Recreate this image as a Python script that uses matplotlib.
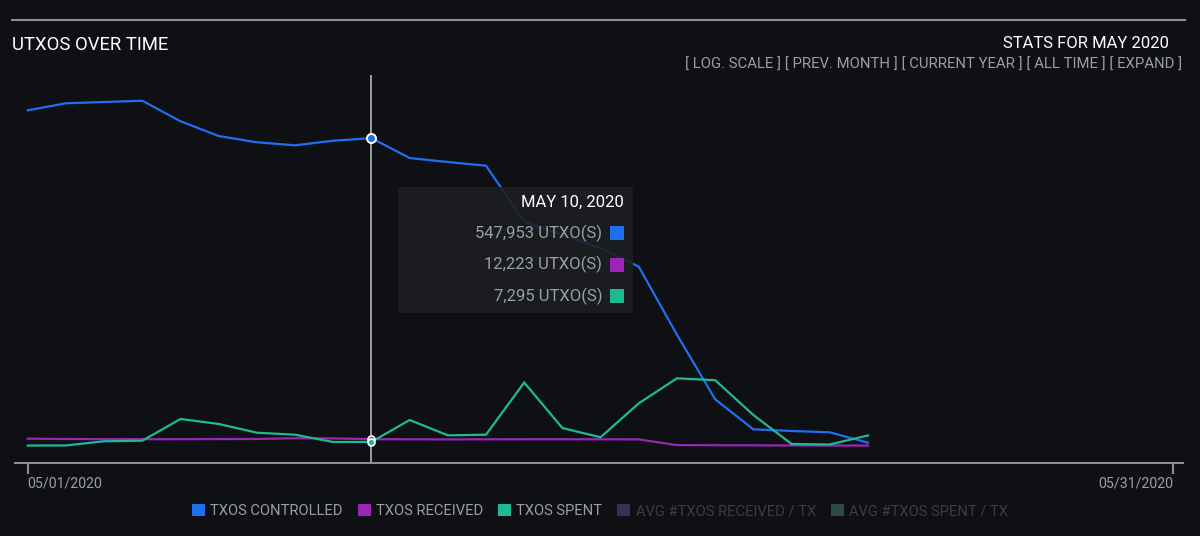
"""UTXOs over time (May 2020) - dark dashboard style line chart."""
import numpy as np
import matplotlib
matplotlib.use("Agg")
import matplotlib.pyplot as plt
from matplotlib.lines import Line2D
from matplotlib.patches import Rectangle, Patch

plt.rcParams["font.family"] = ["Roboto", "DejaVu Sans"]

# data, one value per day starting 05/01/2020
start_date = "2020-05-01"
end_date = "2020-05-31"
hover_day = 9  # index of May 10

txos_controlled = [597500, 610000, 612300, 614600, 578000, 551800, 540600, 535200,
                   543400, 547953, 512600, 505500, 498900, 399300, 375600, 351900,
                   319200, 198100, 83100, 29700, 26700, 24400, 5900]
txos_received = [13000, 12400, 12200, 12100, 12200, 12300, 12500, 13800,
                 13500, 12223, 11900, 11800, 11900, 12000, 12100, 11900,
                 11800, 1600, 1400, 1200, 1000, 900, 800]
txos_spent = [800, 1000, 8400, 9400, 48100, 39200, 23700, 20100,
              7100, 7295, 46300, 19000, 20100, 113000, 32000, 15500,
              76000, 120500, 117100, 55200, 3600, 2700, 18700]

series_labels = ["TXOS CONTROLLED", "TXOS RECEIVED", "TXOS SPENT"]
extra_labels = ["AVG #TXOS RECEIVED / TX", "AVG #TXOS SPENT / TX"]
buttons = ["[ LOG. SCALE ]", "[ PREV. MONTH ]", "[ CURRENT YEAR ]", "[ ALL TIME ]", "[ EXPAND ]"]

# styling
BG = "#0e1013"
GREY = "#9a9fa6"
DIM = "#3a3d43"
AXIS = "#8c9096"
colors = ["#1f6ff0", "#9b26b6", "#1fb994"]
dim_colors = ["#3d2d55", "#2c4a46"]

W, H = 1200, 536


def fx(x):
    return x / W


def fy(y):
    return 1 - y / H


days = np.arange(np.datetime64(start_date), np.datetime64(start_date) + len(txos_controlled))
d0 = np.datetime64(start_date)
d1 = np.datetime64(end_date)

fig = plt.figure(figsize=(W / 100, H / 100), dpi=100, facecolor=BG)
ax = fig.add_axes([fx(15), fy(463), fx(1183) - fx(15), fy(75) - fy(463)])
ax.set_facecolor(BG)

for vals, c in zip([txos_controlled, txos_received, txos_spent], colors):
    ax.plot(days, vals, color=c, lw=1.6, solid_joinstyle="miter")

# x range: day 1 sits 12px from the left end of the axis line
px_day = (1173 - 27) / 30
ax.set_xlim(d0 - np.timedelta64(int(round(12 / px_day * 24)), "h"),
            d1 + np.timedelta64(int(round(10 / px_day * 24)), "h"))
ax.set_ylim(-30260, 660380)

# hover line + markers
ax.axvline(days[hover_day], color="#a5a9ae", lw=1.3, zorder=1)
ax.plot(days[hover_day], txos_controlled[hover_day], "o", ms=6.5, mfc=colors[0], mec="white", mew=1.4, zorder=5)
ax.plot(days[hover_day], txos_received[hover_day], "o", ms=5, mfc=colors[1], mec="white", mew=1.2, zorder=5)
ax.plot(days[hover_day], txos_spent[hover_day], "o", ms=5, mfc=colors[2], mec="white", mew=1.2, zorder=5)

for s in ["top", "right", "left"]:
    ax.spines[s].set_visible(False)
ax.spines["bottom"].set_color(AXIS)
ax.spines["bottom"].set_linewidth(1.5)
ax.set_yticks([])
ax.set_xticks([d0, d1])
ax.set_xticklabels([f"{str(d)[5:7]}/{str(d)[8:10]}/{str(d)[:4]}" for d in [d0, d1]])
ax.tick_params(axis="x", length=8, width=1.5, color=AXIS, labelcolor=GREY, labelsize=10.2, pad=2)
lbls = ax.get_xticklabels()
lbls[0].set_ha("left")
lbls[1].set_ha("right")

# header
fig.add_artist(Line2D([fx(12), fx(1185)], [fy(20), fy(20)], color="#8b8f94", lw=1.5))
fig.text(fx(12), fy(45), "UTXOS OVER TIME", color="white", fontsize=13.3, va="center", ha="left")
fig.text(fx(1169), fy(44), "STATS FOR MAY 2020", color="white", fontsize=12, va="center", ha="right")
fig.text(fx(1182), fy(65), " ".join(buttons), color=GREY, fontsize=10.7, va="center", ha="right")

# tooltip
fig.add_artist(Rectangle((fx(398), fy(313)), fx(633) - fx(398), fy(187) - fy(313),
                         transform=fig.transFigure, facecolor="#1c1e22", alpha=0.88,
                         edgecolor="none", zorder=3))
hover_date = days[hover_day].astype(object)
fig.text(fx(624), fy(202), hover_date.strftime("%b %d, %Y").upper(), color="white",
         fontsize=12, va="center", ha="right", zorder=4)
row_y = [233, 264.5, 296]
for vals, c, y in zip([txos_controlled, txos_received, txos_spent], colors, row_y):
    fig.text(fx(602), fy(y), f"{vals[hover_day]:,} UTXO(S)", color=GREY, fontsize=12,
             va="center", ha="right", zorder=4)
    fig.add_artist(Rectangle((fx(610), fy(y + 7)), fx(14), fy(0) - fy(14),
                             transform=fig.transFigure, facecolor=c, edgecolor="none", zorder=4))

# legend
handles = [Patch(facecolor=c, edgecolor="none") for c in colors + dim_colors]
leg = fig.legend(handles, series_labels + extra_labels, loc="center", ncol=5,
                 bbox_to_anchor=(0.5, fy(511)), frameon=False, fontsize=10.6,
                 handlelength=0.9, handleheight=0.9, handletextpad=0.35,
                 columnspacing=1.0, labelcolor=[GREY] * 3 + [DIM] * 2)

fig.savefig("out.png", dpi=100, facecolor=BG)
